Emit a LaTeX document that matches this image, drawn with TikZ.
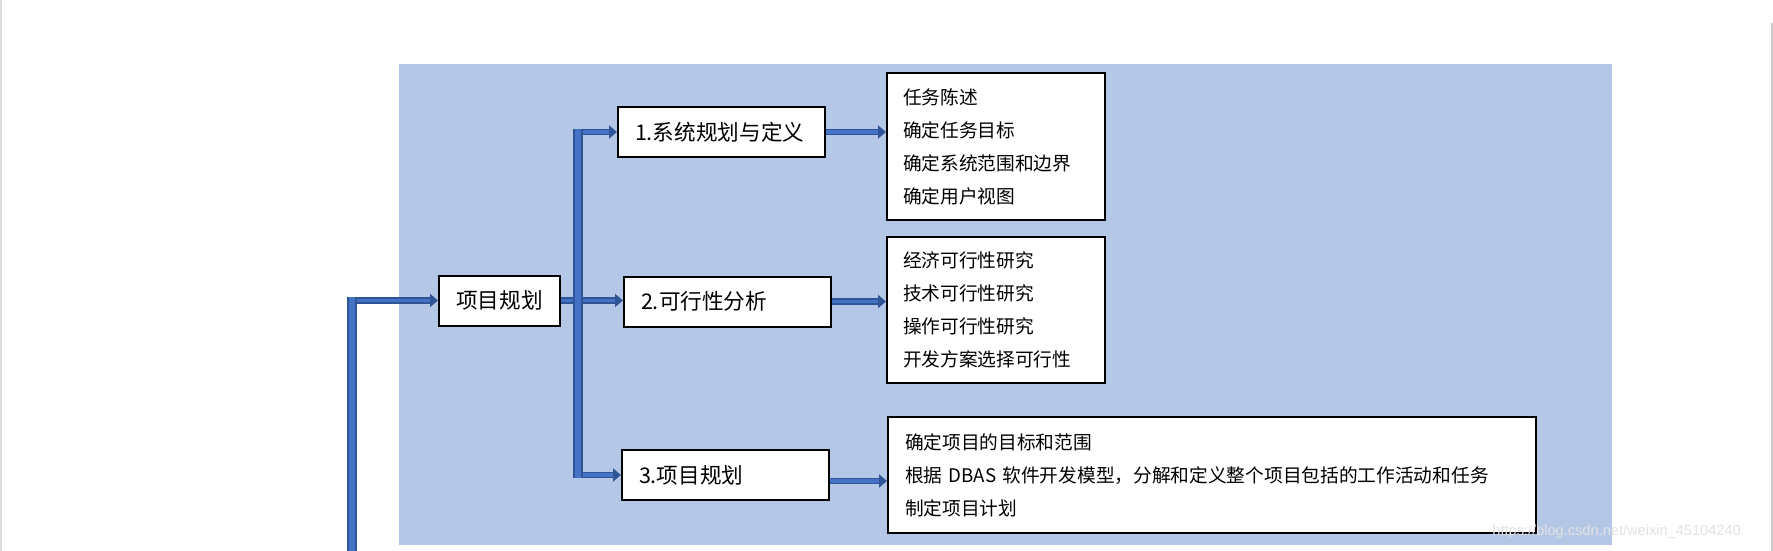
\documentclass[tikz,border=0pt]{standalone}
\usepackage{fontspec}
\newfontfamily\cjk{Noto Sans CJK SC}
\newfontfamily\wmfont{Liberation Sans}
\usetikzlibrary{arrows.meta}
\definecolor{bgblue}{HTML}{B4C7E7}
\definecolor{flowblue}{HTML}{4472C4}
\definecolor{flowdark}{HTML}{2F5597}
\definecolor{edgegray}{HTML}{DDDDDD}
\definecolor{markgray}{HTML}{E2E2E2}
\begin{document}
\begin{tikzpicture}[x=0.5pt, y=-0.5pt,
  main node/.style={draw, line width=1pt, fill=white, minimum height=25pt, inner xsep=8.5pt, font=\cjk\fontsize{10.8pt}{13pt}\selectfont},
  list node/.style={draw, line width=1pt, fill=white, inner xsep=8pt, align=left, font=\cjk\fontsize{9.35pt}{16.5pt}\selectfont},
  flow line/.style={draw=flowdark, line width=3.2pt, -{Triangle[length=4pt,width=6.5pt]}, postaction={draw=flowblue, line width=1.6pt, shorten >=4pt, -}},
  trunk line/.style={draw=flowdark, line width=5pt, postaction={draw=flowblue, line width=2.6pt}}]
\useasboundingbox (0,0) rectangle (1773,551);
\fill[bgblue] (399,64) rectangle (1612,545);
\draw[edgegray, line width=1pt] (0.5,0) -- (0.5,551);
\draw[edgegray!80!gray, line width=1pt] (1772,23) -- (1772,551);
\begin{scope}[every node/.style={main node}]
\node [text width=43.5pt, align=center](pm) at (499.5,300.5) {项目规划};
\node [text width=86.5pt, align=left](n1) at (721.5,132) {1.系统规划与定义};
\node [text width=86.5pt, align=left](n2) at (727.5,301.5) {2.可行性分析};
\node [text width=86.5pt, align=left](n3) at (725.5,475) {3.项目规划};
\end{scope}
\begin{scope}[every node/.style={list node}]
\node [text width=93pt, minimum height=73.5pt](tA) at (996,146.5) {任务陈述\\确定任务目标\\确定系统范围和边界\\确定用户视图};
\node [text width=93pt, minimum height=73pt](tB) at (996,310) {经济可行性研究\\技术可行性研究\\操作可行性研究\\开发方案选择可行性};
\node [text width=307pt, minimum height=58pt, inner xsep=8.5pt](tC) at (1212,475) {确定项目的目标和范围\\根据 DBAS 软件开发模型，分解和定义整个项目包括的工作活动和任务\\制定项目计划};
\end{scope}
\coordinate (src) at (352,551);
\coordinate (bus) at (578,300.5);
\draw[flow line] (src) |- (pm.west);
\draw[flow line] (pm.east) -- (pm.east -| n2.west);
\draw[flow line] (bus) |- (n1.west);
\draw[flow line] (bus) |- (n3.west);
\draw[flow line] (n1.east) -- (n1.east -| tA.west);
\draw[flow line] (n2.east) -- (n2.east -| tB.west);
\draw[flow line] ([yshift=-3pt]n3.east) -- ([yshift=-3pt]n3.east -| tC.west);
\draw[trunk line] (src) -- ([yshift=1.6pt]src |- pm.west);
\draw[trunk line] ([yshift=1.6pt]bus |- n1.west) -- ([yshift=-1.6pt]bus |- n3.west);
\node [font=\wmfont\fontsize{7.3pt}{8pt}\selectfont, text=markgray, anchor=west, inner sep=0pt](mark) at (1492,532) {https://blog.csdn.net/weixin\_45104240};
\end{tikzpicture}
\end{document}
